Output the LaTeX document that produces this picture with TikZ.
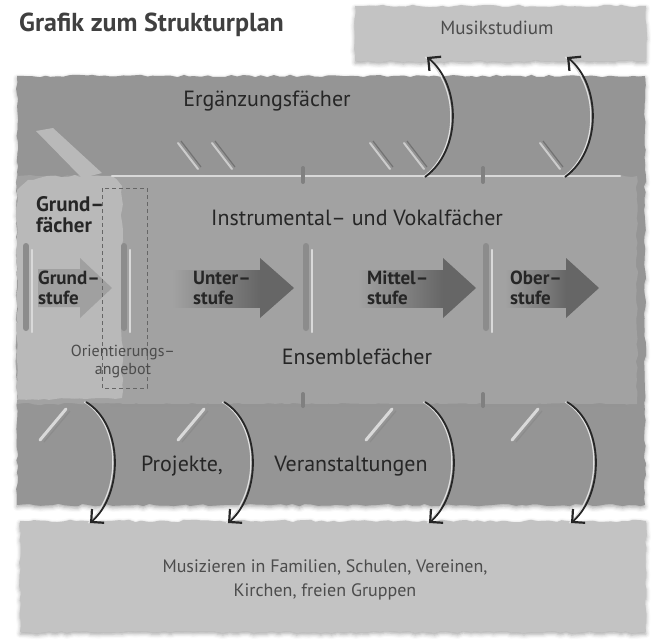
\documentclass[tikz,border=0pt]{standalone}
\usepackage{fontspec}
\setmainfont{PT Sans}
\usetikzlibrary{positioning, arrows.meta, decorations.pathmorphing, shadows.blur}

\definecolor{paper}{HTML}{C3C3C3}
\definecolor{band}{HTML}{959595}
\definecolor{midband}{HTML}{A2A2A2}
\definecolor{grundpanel}{HTML}{B9B9B9}
\definecolor{grundarrow}{HTML}{A0A0A0}
\definecolor{stagedark}{HTML}{666666}
\definecolor{ink}{HTML}{262626}
\definecolor{softink}{HTML}{4C4C4C}

\tikzset{
  rough/.style={decorate, decoration={random steps, segment length=6pt, amplitude=1.2pt}},
  softedge/.style={blur shadow={shadow xshift=0pt, shadow yshift=-2pt, shadow blur radius=4pt, shadow opacity=35}},
  titletext/.style={inner sep=0pt, text=black!75, font=\bfseries\fontsize{26}{30}\selectfont},
  bandtext/.style={inner sep=0pt, text=ink, font=\fontsize{22}{24}\selectfont},
  softtext/.style={inner sep=0pt, text=softink, font=\fontsize{18}{24}\selectfont, align=center},
  stagetext/.style={inner sep=0pt, text=ink, font=\bfseries\fontsize{19}{20}\selectfont, align=left, anchor=west},
  ridge/.style={line width=6pt, draw=black!45, line cap=round},
  glint/.style={line width=2.5pt, draw=white!85!black, line cap=round},
  returnarrow/.style={line width=1.8pt, draw=black!85, -{Straight Barb[angle=90:13pt, line width=2.2pt]}},
}

\begin{document}
\begin{tikzpicture}[x=1pt, y=-1pt]
\useasboundingbox (0,0) rectangle (656,642);
\pgfmathsetseed{4}

% the three paper pieces
\fill[rough, paper, softedge] (355,6) rectangle (646,61);
\fill[rough, band, softedge] (17,76) rectangle (645,505);
\fill[rough, paper, softedge] (20,521) rectangle (646,632);

% middle band and the panel of the Grundstufe
\fill[rough, midband] (17,176) rectangle (637,404);
\fill[rough, grundpanel] (17,190) -- (28,180) -- (50,176) -- (112,176) -- (122,186) -- (122,398) -- (17,400) -- cycle;
\fill[grundpanel] (36,131) -- (53,128) -- (102,173) -- (82,178) -- cycle;

% edges of the middle band
\draw[glint] (112,176) -- (620,176);
\draw[line width=3pt, black!42, line cap=round] (112,405) -- (625,405);
\foreach \x in {303,483}
{
  \draw[line width=4pt, black!50, line cap=round] (\x,168) -- (\x,182);
  \draw[line width=4pt, black!50, line cap=round] (\x,394) -- (\x,406);
}

% chevrons of the outer bands
\foreach \x in {178,212,370,404,540}
{
  \draw[line width=2pt, white!80!black, line cap=round] (\x,143) -- (\x+20,169);
  \draw[line width=1.2pt, black!55] (\x+3,141) -- (\x+23,167);
}
\foreach \x in {40,178,366,512}
{
  \draw[line width=3pt, white!85!black, line cap=round] (\x,440) -- (\x+26,409);
  \draw[line width=1.2pt, black!45] (\x+4,442) -- (\x+30,411);
}

% dividers between the stages
\foreach \x in {26,124,306,486}
{
  \draw[ridge] (\x,246) -- (\x,328);
  \draw[glint] (\x+6,250) -- (\x+6,332);
}

% stage arrows
\fill[grundarrow] (38,269) -- (80,269) -- (80,258) -- (112,288) -- (80,318) -- (80,307) -- (38,307) -- cycle;
\foreach \s/\h/\t in {172/260/294, 358/443/476, 505/566/599}
{
  \shade[left color=midband, right color=stagedark] (\s,270) rectangle (\h,307);
  \fill[stagedark] (\h,258) -- (\t,288) -- (\h,318) -- cycle;
}

% Orientierungsangebot
\draw[black!60, line width=0.9pt, dash pattern=on 4pt off 3pt] (102,188) rectangle (147,388);

% texts
\node[titletext, anchor=west] (title) at (19,25) {Grafik zum Strukturplan};
\node[softtext, font=\fontsize{19}{24}\selectfont] (studium) at (497,28) {Musikstudium};
\node[bandtext] (ergaenz) at (267,101) {Ergänzungsfächer};
\node[bandtext, font=\bfseries\fontsize{21}{21}\selectfont, align=left, anchor=north west] (grundf) at (36,196) {Grund--\\fächer};
\node[bandtext] (instr) at (357,218) {Instrumental-- und Vokalfächer};
\node[stagetext] (grund) at (38,288) {Grund--\\stufe};
\node[stagetext] (unter) at (193,288) {Unter--\\stufe};
\node[stagetext] (mittel) at (367,288) {Mittel--\\stufe};
\node[stagetext] (ober) at (510,288) {Ober--\\stufe};
\node[softtext, font=\fontsize{16}{18}\selectfont] (orient) at (123,361) {Orientierungs--\\angebot};
\node[bandtext] (ensemble) at (357,357) {Ensemblefächer};
\node[bandtext] (projekte) at (182,466) {Projekte,};
\node[bandtext] (veranst) at (351,466) {Veranstaltungen};
\node[softtext] (musiz) at (325,580) {Musizieren in Familien, Schulen, Vereinen,\\Kirchen, freien Gruppen};

% arrows up to the Musikstudium
\foreach \x [count=\i] in {425,565}
{
  \coordinate (up\i-s) at (\x,177);
  \coordinate (up\i-t) at (\x+2,57);
  \draw[line width=1.2pt, white!88!black] ([xshift=-1.8pt]up\i-s) .. controls +(37,-27) and +(34,28) .. ([xshift=-1.8pt]up\i-t);
  \draw[returnarrow] (up\i-s) .. controls +(37,-27) and +(34,28) .. (up\i-t);
}

% arrows down to the bottom piece
\foreach \x [count=\i] in {86,224,425,567}
{
  \coordinate (dn\i-s) at (\x,402);
  \coordinate (dn\i-t) at (\x+4,523);
  \draw[line width=1.2pt, white!88!black] ([xshift=-1.8pt]dn\i-s) .. controls +(37,22) and +(34,-30) .. ([xshift=-1.8pt]dn\i-t);
  \draw[returnarrow] (dn\i-s) .. controls +(37,22) and +(34,-30) .. (dn\i-t);
}

\end{tikzpicture}
\end{document}
